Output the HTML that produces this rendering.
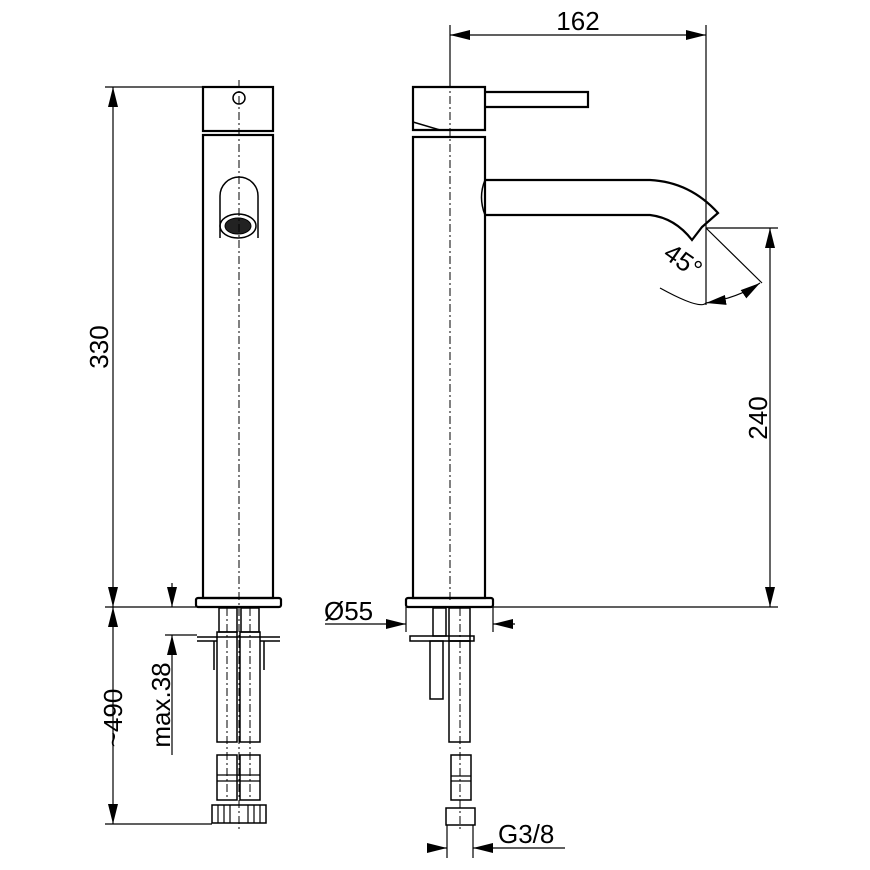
<!DOCTYPE html>
<html><head><style>body{margin:0;background:#fff}svg{display:block}text{font-family:"Liberation Sans",sans-serif;fill:#000}</style></head><body>
<svg width="870" height="870" viewBox="0 0 870 870" xmlns="http://www.w3.org/2000/svg">
<defs>
<marker id="a" viewBox="0 0 20 10" refX="20" refY="5" markerWidth="20" markerHeight="10" markerUnits="userSpaceOnUse" orient="auto-start-reverse"><path d="M0,0L20,5L0,10z" fill="#000"/></marker>
</defs>
<g fill="none" stroke="#000" stroke-width="2.2">
<rect x="203" y="87" width="70" height="44"/>
<circle cx="239" cy="98" r="6" stroke-width="1.5"/>
<rect x="203" y="135" width="70" height="463"/>
<path d="M220,238V196a19,19 0 0 1 38,0V238" stroke-width="1.5"/>
<ellipse cx="238" cy="226" rx="18" ry="12" stroke-width="1.5"/>
<ellipse cx="238" cy="226" rx="13" ry="8" fill="#222" stroke-width="1"/>
<rect x="196" y="598" width="85" height="9" rx="2"/>
<rect x="219" y="608" width="18" height="24" stroke-width="1.5"/>
<rect x="241" y="608" width="18" height="24" stroke-width="1.5"/>
<rect x="217" y="632" width="20" height="110" stroke-width="1.5"/>
<rect x="240" y="632" width="20" height="110" stroke-width="1.5"/>
<path d="M197,637H280M197,641H217M260,641H280M214,641V670M264,641V670" stroke-width="1.5"/>
<rect x="217" y="755" width="20" height="45" stroke-width="1.5"/>
<rect x="240" y="755" width="20" height="45" stroke-width="1.5"/>
<path d="M217,775H260M217,781H260" stroke-width="1.2"/>
<rect x="212" y="805" width="54" height="18" stroke-width="1.5"/>
<path d="M218,805V823M224,805V823M230,805V823M248,805V823M254,805V823M260,805V823" stroke-width="1.2"/>
<path d="M239,80V830M227,608V800M250,608V800" stroke-width="1" stroke-dasharray="8,3,2,3"/>
<g stroke-width="1.2">
<path d="M105,87H203M105,607H196M105,824H212M165,635H197"/>
<line x1="113" y1="87" x2="113" y2="607" marker-start="url(#a)" marker-end="url(#a)"/>
<line x1="113" y1="607" x2="113" y2="824" marker-start="url(#a)" marker-end="url(#a)"/>
<line x1="172" y1="583" x2="172" y2="607" marker-end="url(#a)"/>
<line x1="172" y1="755" x2="172" y2="635" marker-end="url(#a)"/>
</g>
<path d="M413,87H485V130H413Z"/>
<path d="M485,92H588V107H485"/>
<path d="M413,122L440,130H485" stroke-width="1.5"/>
<rect x="413" y="137" width="72" height="461"/>
<path d="M485,180H650Q690,182 718,213L702,227L692,240Q675,218 650,215H485" />
<path d="M485,180Q478,197 485,215" stroke-width="1.5"/>
<rect x="406" y="598" width="87" height="9" rx="2"/>
<rect x="410" y="636" width="64" height="5" stroke-width="1.5"/>
<rect x="433" y="608" width="13" height="28" stroke-width="1.5"/>
<rect x="430" y="641" width="13" height="58" stroke-width="1.5"/>
<rect x="449" y="608" width="21" height="33" stroke-width="1.5"/>
<rect x="449" y="641" width="21" height="101" stroke-width="1.5"/>
<rect x="451" y="755" width="20" height="45" stroke-width="1.5"/>
<path d="M451,776H471M451,781H471" stroke-width="1.2"/>
<rect x="446" y="808" width="29" height="17" stroke-width="1.5"/>
<path d="M450,80V600M460,608V830" stroke-width="1" stroke-dasharray="8,3,2,3"/>
<g stroke-width="1.2">
<path d="M450,25V87M706,25V305M706,228H778M493,607H778M406,607V632M493,607V632M447,825V858M473,825V858"/>
<line x1="450" y1="35" x2="706" y2="35" marker-start="url(#a)" marker-end="url(#a)"/>
<line x1="770" y1="228" x2="770" y2="607" marker-start="url(#a)" marker-end="url(#a)"/>
<line x1="706" y1="228" x2="762" y2="283"/>
<path d="M660,288Q700,310 706,303" />
<path d="M706,303Q738,298 760,283" marker-start="url(#a)" marker-end="url(#a)"/>
<line x1="325" y1="624" x2="406" y2="624" marker-end="url(#a)"/>
<line x1="515" y1="624" x2="493" y2="624" marker-end="url(#a)"/>
<line x1="428" y1="848" x2="447" y2="848" marker-end="url(#a)"/>
<line x1="565" y1="848" x2="473" y2="848" marker-end="url(#a)"/>
</g>
</g>
<g font-size="26">
<text x="578" y="30" text-anchor="middle">162</text>
<text transform="translate(108,347) rotate(-90)" text-anchor="middle">330</text>
<text transform="translate(122,718) rotate(-90)" text-anchor="middle">~490</text>
<text transform="translate(170,705) rotate(-90)" text-anchor="middle">max.38</text>
<text transform="translate(767,418) rotate(-90)" text-anchor="middle">240</text>
<text transform="translate(678,268) rotate(35)" text-anchor="middle">45°</text>
<text x="324" y="620">Ø55</text>
<text x="498" y="843">G3/8</text>
</g>
</svg>
</body></html>
